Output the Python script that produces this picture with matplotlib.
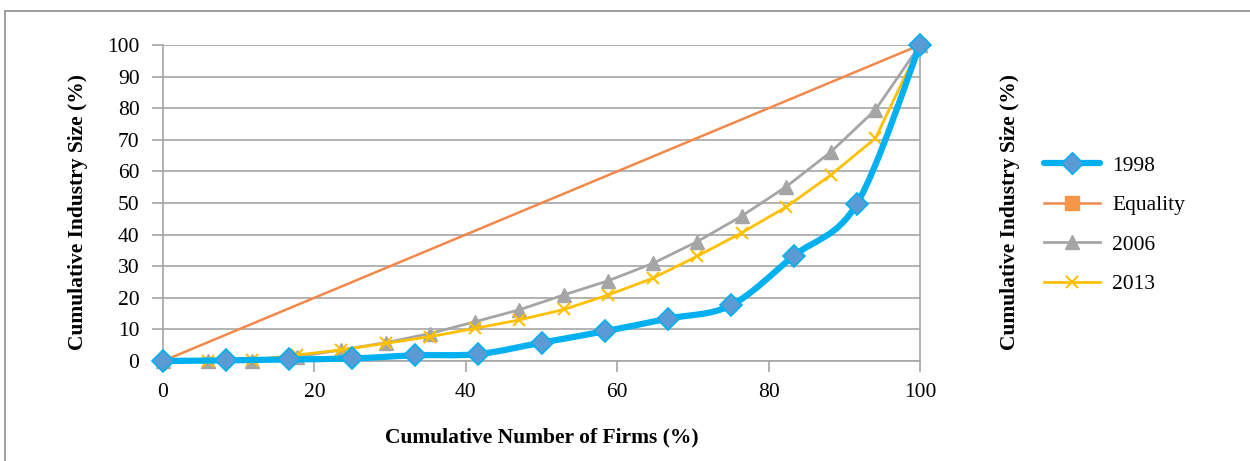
import numpy as np
import matplotlib
matplotlib.use("Agg")
import matplotlib.pyplot as plt
from matplotlib.path import Path
from matplotlib.patches import PathPatch, Rectangle
from matplotlib.lines import Line2D

# ---- data ----
x_1998 = [0, 8.33, 16.67, 25, 33.33, 41.67, 50, 58.33, 66.67, 75, 83.33, 91.67, 100]
y_1998 = [0, 0.2, 0.5, 0.8, 1.8, 2.2, 5.8, 9.4, 13.4, 17.6, 33.3, 49.8, 100]

x_equal = [0, 100]
y_equal = [0, 100]

x_2006 = [0, 5.88, 11.76, 17.65, 23.53, 29.41, 35.29, 41.18, 47.06, 52.94,
          58.82, 64.71, 70.59, 76.47, 82.35, 88.24, 94.12, 100]
y_2006 = [0, 0, 0, 1.3, 3.5, 5.8, 8.7, 12.4, 16.2, 20.9,
          25.4, 30.9, 37.8, 45.9, 55.2, 66.2, 79.5, 100]

x_2013 = x_2006
y_2013 = [0, 0, 0.3, 1.9, 3.5, 5.6, 7.7, 10.3, 13.0, 16.3,
          20.9, 26.2, 33.2, 40.6, 48.8, 58.9, 70.5, 100]

xticks = [0, 20, 40, 60, 80, 100]
yticks = [0, 10, 20, 30, 40, 50, 60, 70, 80, 90, 100]

C_BLUE = "#00B0F0"
C_BLUE_M = "#5B9BD5"
C_ORANGE = "#F0894A"
C_ORANGE_M = "#F79646"
C_GRAY = "#A5A5A5"
C_YELLOW = "#FFC000"

plt.rcParams['font.family'] = ['Liberation Serif', 'DejaVu Serif']

FS = 15.5

fig = plt.figure(figsize=(12.5, 4.61), dpi=100)
ax = fig.add_axes([163/1250, 1-361/461, (920-163)/1250, (361-45)/461])

# outer frame
fig.patches.append(Rectangle((5/1250, -0.2), 2.0, (461-10.5)/461 + 0.2,
                             transform=fig.transFigure, fill=False,
                             edgecolor="#8C8C8C", lw=1.2))

ax.set_xlim(0, 100)
ax.set_ylim(0, 100)
ax.set_yticks(yticks)
ax.set_xticks(xticks)
ax.grid(axis='y', color="#A6A6A6", lw=1.2)
ax.set_axisbelow(True)
ax.spines['top'].set_visible(False)
for s in ['left', 'right', 'bottom']:
    ax.spines[s].set_color("#A6A6A6")
    ax.spines[s].set_linewidth(1.2)
ax.tick_params(axis='both', colors="#A6A6A6", length=8, width=1.2,
               labelcolor="black", labelsize=FS)
ax.tick_params(axis='y', left=True, right=True, labelleft=True, labelright=True, pad=9)
ax.tick_params(axis='x', pad=8)

# smooth (Catmull-Rom -> Bezier) curve for 1998
def smooth_path(xs, ys):
    pts = np.column_stack([xs, ys]).astype(float)
    verts = [pts[0]]
    codes = [Path.MOVETO]
    n = len(pts)
    for i in range(n - 1):
        p0 = pts[i - 1] if i > 0 else pts[i]
        p1 = pts[i]
        p2 = pts[i + 1]
        p3 = pts[i + 2] if i + 2 < n else pts[i + 1]
        c1 = p1 + (p2 - p0) / 6.0
        c2 = p2 - (p3 - p1) / 6.0
        verts += [c1, c2, p2]
        codes += [Path.CURVE4] * 3
    return Path(verts, codes)

ax.plot(x_equal, y_equal, color=C_ORANGE, lw=1.8, marker='s', ms=9,
        mfc=C_ORANGE_M, mec=C_ORANGE_M, clip_on=False, zorder=3)
ax.plot(x_2006, y_2006, color=C_GRAY, lw=2.0, marker='^', ms=10,
        mfc=C_GRAY, mec=C_GRAY, clip_on=False, zorder=4)
ax.plot(x_2013, y_2013, color=C_YELLOW, lw=2.0, marker='x', ms=9, mew=1.5,
        mec=C_YELLOW, clip_on=False, zorder=5)
ax.add_patch(PathPatch(smooth_path(x_1998, y_1998), fill=False, edgecolor=C_BLUE,
                       lw=4.5, capstyle='round', joinstyle='round', zorder=6,
                       clip_on=False))
ax.plot(x_1998, y_1998, linestyle='none', marker='D', ms=11,
        mfc=C_BLUE_M, mec=C_BLUE, mew=1.2, clip_on=False, zorder=7)

ax.set_ylabel("Cumulative Industry Size (%)", fontsize=FS, fontweight='bold')
ax.yaxis.set_label_coords((88 - 163) / (920 - 163), 0.47)
ax2 = ax.twinx()
ax2.set_ylim(0, 100)
ax2.set_yticks([])
for s in ax2.spines.values():
    s.set_visible(False)
ax2.set_ylabel("Cumulative Industry Size (%)", fontsize=FS, fontweight='bold')
ax2.yaxis.set_label_coords((1000 - 163) / (920 - 163), 0.47)
ax.set_xlabel("Cumulative Number of Firms (%)", fontsize=FS, fontweight='bold', labelpad=18)

handles = [
    Line2D([], [], color=C_BLUE, lw=4.5, marker='D', ms=11, mfc=C_BLUE_M, mec=C_BLUE,
           solid_capstyle='round'),
    Line2D([], [], color=C_ORANGE, lw=1.8, marker='s', ms=10, mfc=C_ORANGE_M, mec=C_ORANGE_M),
    Line2D([], [], color=C_GRAY, lw=2.0, marker='^', ms=10, mfc=C_GRAY, mec=C_GRAY),
    Line2D([], [], color=C_YELLOW, lw=2.0, marker='x', ms=9, mew=1.5, mec=C_YELLOW),
]
labels = ["1998", "Equality", "2006", "2013"]
fig.legend(handles, labels, loc='center left', bbox_to_anchor=(1025/1250, 1-225/461),
           frameon=False, fontsize=FS, handlelength=2.6, labelspacing=0.9,
           numpoints=1, handletextpad=0.55)

fig.savefig("out.png", dpi=100)
